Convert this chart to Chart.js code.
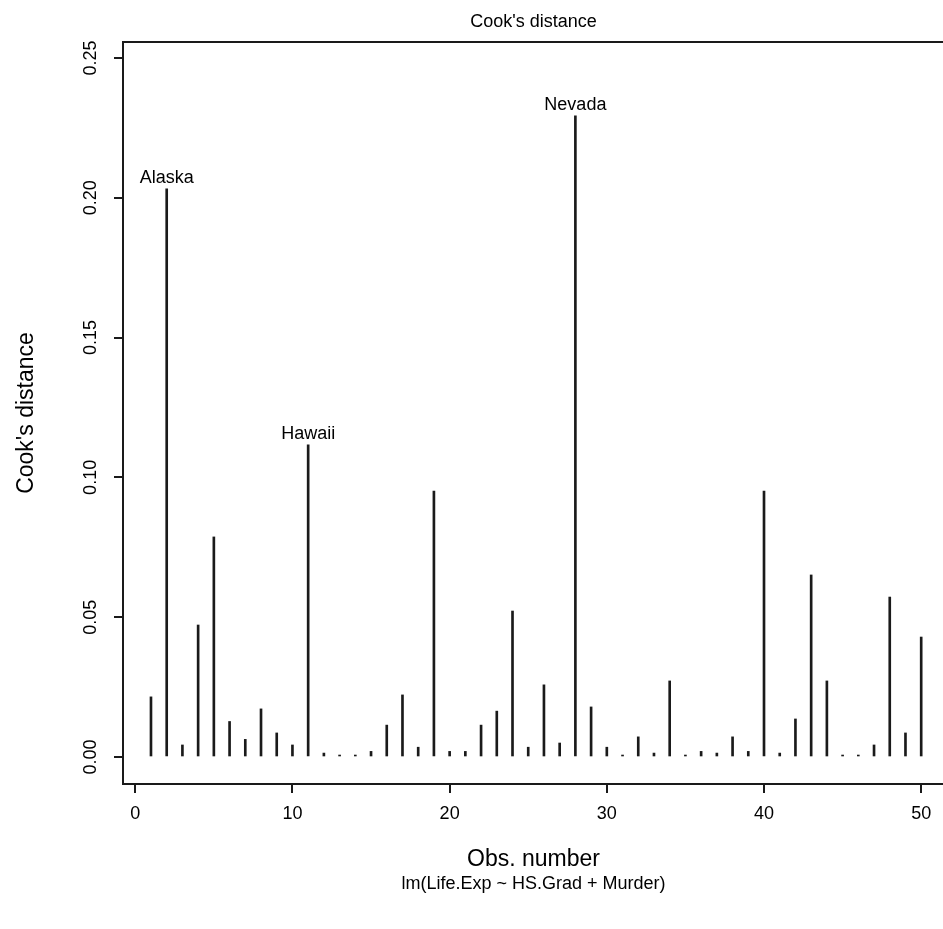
<!DOCTYPE html>
<html>
<head>
<meta charset="utf-8">
<script src="https://cdn.jsdelivr.net/npm/chart.js@4.4.1/dist/chart.umd.min.js"></script>
<style>
  html, body { margin: 0; padding: 0; background: #fff; overflow: hidden; }
  canvas { display: block; }
</style>
</head>
<body>
<canvas id="cooksChart" width="1000" height="929"></canvas>
<script>
// Cook's distance per observation for lm(Life.Exp ~ HS.Grad + Murder)
const obsNumber = [
  1, 2, 3, 4, 5, 6, 7, 8, 9, 10,
  11, 12, 13, 14, 15, 16, 17, 18, 19, 20,
  21, 22, 23, 24, 25, 26, 27, 28, 29, 30,
  31, 32, 33, 34, 35, 36, 37, 38, 39, 40,
  41, 42, 43, 44, 45, 46, 47, 48, 49, 50
];
const cookD = [
  0.0215, 0.2032, 0.0043, 0.0472, 0.0787, 0.0127, 0.0063, 0.0172, 0.0086, 0.0043,
  0.1116, 0.0014, 0.0007, 0.0007, 0.0020, 0.0114, 0.0222, 0.0035, 0.0951, 0.0020,
  0.0020, 0.0114, 0.0164, 0.0522, 0.0035, 0.0258, 0.0050, 0.2293, 0.0179, 0.0035,
  0.0007, 0.0072, 0.0014, 0.0272, 0.0007, 0.0020, 0.0014, 0.0072, 0.0020, 0.0951,
  0.0014, 0.0136, 0.0651, 0.0272, 0.0007, 0.0007, 0.0043, 0.0572, 0.0086, 0.0429
];
// the three largest get their state name
const labelledObs = [2, 11, 28];
const labelNames = ['Alaska', 'Hawaii', 'Nevada'];

const xTicks = [0, 10, 20, 30, 40, 50];
const yTicks = [0, 0.05, 0.10, 0.15, 0.20, 0.25];
const yTickLabels = ['0.00', '0.05', '0.10', '0.15', '0.20', '0.25'];

const mainTitle = "Cook's distance";
const xTitle = 'Obs. number';
const yTitle = "Cook's distance";
const subTitle = 'lm(Life.Exp ~ HS.Grad + Murder)';

const ink = '#1a1a1a';
const fontFamily = '"Liberation Sans", Arial, sans-serif';

// box, axis labels and id labels drawn the way base R graphics does
const rStyle = {
  id: 'rStyle',
  afterDraw(chart) {
    const ctx = chart.ctx;
    const area = chart.chartArea;
    const xs = chart.scales.x;
    const ys = chart.scales.y;
    const midX = (area.left + area.right) / 2;
    const midY = (area.top + area.bottom) / 2;

    ctx.save();
    ctx.strokeStyle = ink;
    ctx.lineWidth = 2;
    ctx.strokeRect(area.left, area.top, area.right - area.left, area.bottom - area.top);

    ctx.fillStyle = '#000';
    ctx.textBaseline = 'alphabetic';
    ctx.textAlign = 'center';

    // axis titles are a size up from the rest
    ctx.font = '23px ' + fontFamily;
    ctx.fillText(xTitle, midX - 4, area.bottom + 82);
    ctx.save();
    ctx.translate(area.left - 90, midY);
    ctx.rotate(-Math.PI / 2);
    ctx.fillText(yTitle, 0, 0);
    ctx.restore();

    ctx.font = '18px ' + fontFamily;
    ctx.fillText(mainTitle, midX - 4, area.top - 15);
    ctx.fillText(subTitle, midX - 4, area.bottom + 105);

    xTicks.forEach(v => ctx.fillText(String(v), xs.getPixelForValue(v), area.bottom + 35));
    yTicks.forEach((v, i) => {
      ctx.save();
      ctx.translate(area.left - 27, ys.getPixelForValue(v));
      ctx.rotate(-Math.PI / 2);
      ctx.fillText(yTickLabels[i], 0, 0);
      ctx.restore();
    });

    labelledObs.forEach((n, i) => {
      const idx = obsNumber.indexOf(n);
      const px = xs.getPixelForValue(n);
      const py = ys.getPixelForValue(cookD[idx]);
      ctx.fillText(labelNames[i], px, py - 6);
    });
    ctx.restore();
  }
};

const tickGrid = { offset: false, drawOnChartArea: false, drawTicks: true, tickLength: 9, color: ink, lineWidth: 2 };

new Chart(document.getElementById('cooksChart'), {
  type: 'bar',
  data: {
    datasets: [{
      data: obsNumber.map((n, i) => ({ x: n, y: cookD[i] })),
      backgroundColor: ink,
      borderWidth: 0,
      barThickness: 2
    }]
  },
  options: {
    responsive: false,
    animation: false,
    layout: { padding: { top: 42, right: 48, left: 0, bottom: 0 } },
    plugins: { legend: { display: false }, tooltip: { enabled: false } },
    scales: {
      x: {
        type: 'linear',
        min: -0.78,
        max: 51.96,
        offset: false,
        grid: tickGrid,
        border: { display: false },
        ticks: { display: false },
        afterBuildTicks: s => { s.ticks = xTicks.map(v => ({ value: v })); },
        afterFit: s => { s.height = 145; }
      },
      y: {
        min: -0.00966,
        max: 0.2557,
        grid: tickGrid,
        border: { display: false },
        ticks: { display: false },
        afterBuildTicks: s => { s.ticks = yTicks.map(v => ({ value: v })); },
        afterFit: s => { s.width = 123; }
      }
    }
  },
  plugins: [rStyle]
});
</script>
</body>
</html>
